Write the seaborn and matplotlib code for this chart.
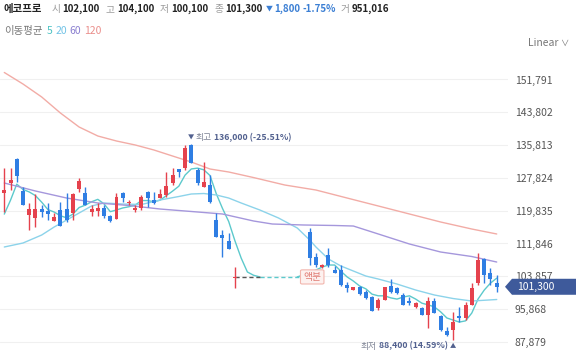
import matplotlib
matplotlib.use("Agg")
import matplotlib.pyplot as plt
import seaborn as sns
import pandas as pd
from matplotlib.patches import Polygon, FancyBboxPatch

W, H = 580, 357

# Daily candles (gap = trading halt before the split)
days = list(range(0, 38)) + list(range(49, 80))
opens = [124100, 126600, 132400, 124600, 118800, 118100, 120200, 119800, 117300, 120000,
         120200, 119300, 125100, 124100, 119500, 119800, 120500, 118500, 117800, 124100,
         121700, 120000, 120500, 124400, 122400, 122900, 123700, 126600, 130000, 130200,
         135800, 129700, 125600, 126100, 117600, 113900, 112400, 103500,
         114600, 108600, 106100, 109000, 105400, 105400, 101700, 100500, 101200, 100000,
         98800, 96100, 98100, 101500, 101000, 99300, 97800, 96400, 96100, 94400,
         97800, 94200, 90500, 90800, 94200, 93700, 96900, 102200, 108100, 104700, 102100]
highs = [130200, 130200, 132700, 125600, 121700, 123900, 121200, 121700, 119300, 122000,
         124100, 124100, 127800, 125600, 121200, 121700, 121200, 118800, 124100, 124400,
         122400, 121200, 123700, 124600, 124400, 125100, 129300, 130200, 130000, 135800,
         136000, 130200, 131700, 128500, 119300, 115100, 114400, 106100,
         115600, 109500, 106800, 110700, 106400, 106600, 102500, 101300, 101500, 100500,
         99100, 98600, 101200, 103200, 101300, 99800, 98800, 97600, 96400, 98800,
         98600, 94400, 91500, 95200, 96400, 97600, 102200, 109500, 108300, 105900, 104100]
lows = [119500, 124900, 126800, 121200, 115100, 115900, 118300, 117600, 117300, 116100,
        117100, 117600, 124400, 121200, 118500, 118500, 118100, 117100, 117800, 122000,
        121200, 119500, 120000, 120700, 121500, 122900, 123200, 126100, 128000, 129700,
        131400, 126100, 125600, 121700, 113400, 108600, 110500, 101000,
        106600, 106100, 105900, 106100, 104700, 101500, 100000, 100500, 99300, 98300,
        95400, 95600, 98100, 99800, 99500, 96900, 96900, 96100, 94400, 91300,
        94900, 90500, 89300, 88400, 92700, 93200, 96900, 101700, 102200, 101700, 100100]
closes = [124900, 127300, 128300, 121200, 120200, 120200, 119500, 119000, 118300, 116100,
          117600, 123900, 127100, 121200, 120200, 120500, 118500, 117300, 123200, 122900,
          122000, 120500, 123200, 122900, 121700, 123900, 125800, 128500, 129300, 135100,
          131500, 126600, 126800, 122000, 113400, 113200, 110500, 103700,
          108300, 106600, 106600, 106600, 104700, 101700, 101000, 101200, 99500, 98600,
          95400, 98100, 101200, 100000, 99800, 96900, 97300, 97300, 94400, 97800,
          94900, 90800, 89600, 92700, 93700, 96900, 101000, 107800, 104200, 103200, 101300]

# Moving averages
ma5_days = list(range(0, 42)) + list(range(47, 80))
ma5 = [119000, 122400, 126300, 125000, 124400, 123500, 121900, 120100, 119500, 118600,
       118100, 119000, 120600, 121200, 122000, 122600, 121500, 119600, 120000, 120500,
       120800, 121200, 122300, 122300, 122000, 122400, 123500, 124600, 125800, 128500,
       130000, 130200, 129800, 128400, 124000, 120400, 117200, 112500, 108300, 104900,
       104100, 103700,
       103700, 104200, 104700, 105400, 106100, 106600, 106600, 105100, 103700, 102700,
       101500, 100800, 99500, 99100, 99100, 98600, 98300, 98800, 99100, 98300,
       97300, 96900, 96400, 95200, 93700, 93200, 92700, 93000, 94900, 98300,
       100500, 102200, 103400]
ma20_days = [0, 3, 6, 8, 10, 12, 14, 16, 19, 22, 25, 28, 30, 32, 34, 36, 38, 41, 44, 47,
             49, 50, 52, 54, 56, 58, 60, 63, 66, 69, 72, 75, 79]
ma20 = [110990, 111960, 113910, 115860, 117560, 119270, 120980, 121710, 121460, 121340,
        122440, 123290, 123900, 124020, 123660, 122920, 121710, 120000, 118050, 115620,
        112690, 110990, 108070, 106360, 105140, 103920, 103190, 101970, 100510, 99300,
        98440, 97830, 98200]
ma60_days = [0, 5, 10, 15, 20, 25, 30, 35, 40, 43, 48, 53, 56, 58, 60, 65, 70, 75, 79]
ma60 = [126580, 124630, 122920, 121710, 121100, 120240, 119640, 119030, 117320, 116590,
        116350, 116230, 116100, 115130, 114160, 111720, 109770, 108670, 107330]
ma120_days = [0, 3, 6, 9, 12, 15, 18, 21, 24, 27, 30, 33, 36, 40, 45, 50, 55, 60, 65, 70, 75, 79]
ma120 = [153500, 150690, 147530, 143630, 140220, 138030, 136810, 135840, 134620, 133150,
         131690, 129990, 129260, 127900, 126090, 124870, 122920, 120980, 119030, 117080,
         115370, 114160]

y_ticks = [87879, 95868, 103857, 111846, 119835, 127824, 135813, 143802, 151791]
last_price = 101300

RED, BLUE = "#e5424d", "#2f7ee3"
C5, C20, C60, C120 = "#5cc9cc", "#8cd3ea", "#a597dc", "#f2aca6"

sns.set_theme(style="white")
plt.rcParams["font.family"] = ["Noto Sans CJK KR", "DejaVu Sans"]

fig = plt.figure(figsize=(W / 100, H / 100), dpi=100)
ax = fig.add_axes([0, 0, 508 / W, 1 - 58 / H])

# moving averages
m5 = pd.DataFrame({"day": ma5_days, "v": ma5})
sns.lineplot(data=m5[m5.day <= 41], x="day", y="v", color=C5, linewidth=1, ax=ax)
sns.lineplot(data=m5[m5.day >= 47], x="day", y="v", color=C5, linewidth=1, ax=ax)
ax.plot([41, 47.6], [ma5[41], ma5[41]], color=C5, linewidth=1, linestyle=(0, (3, 2)))
sns.lineplot(x=ma20_days, y=ma20, color=C20, linewidth=1, ax=ax)
sns.lineplot(x=ma60_days, y=ma60, color=C60, linewidth=1, ax=ax)
sns.lineplot(x=ma120_days, y=ma120, color=C120, linewidth=1, ax=ax)

# dashed link from last pre-halt close
ax.plot([37, 41], [closes[37], closes[37]], color="#555555", linewidth=1,
        linestyle=(0, (3, 2)), zorder=3)

# candles
for d, o, h, l, c in zip(days, opens, highs, lows, closes):
    col = RED if c >= o else BLUE
    ax.vlines(d, l, h, color=col, linewidth=1, zorder=4)
    ax.bar(d, max(abs(c - o), 250), bottom=min(o, c), width=0.64, color=col,
           linewidth=0, zorder=4)

ax.set_xlim(-0.69, 80.81)
ax.set_ylim(84195, 157028)
ax.set_xticks([])
ax.set_yticks(y_ticks)
ax.set_yticklabels([f"{v:,}" for v in y_ticks])
ax.yaxis.tick_right()
ax.tick_params(axis="y", length=0, pad=5, labelsize=7.5, labelcolor="#555555")
ax.grid(axis="y", color="#f0f0f0", linewidth=0.8)
ax.set_xlabel("")
ax.set_ylabel("")
for s in ax.spines.values():
    s.set_visible(False)

renderer = fig.canvas.get_renderer()


def put_row(x0, y0, pieces, size=7.5):
    # pieces placed left to right, pixel coords from top-left
    x = x0
    for txt, color, weight, gap, fs in pieces:
        t = fig.text(x / W, 1 - y0 / H, txt, color=color, fontweight=weight,
                     fontsize=fs or size, va="center", ha="left")
        x += t.get_window_extent(renderer).width + gap
    return x


def row_width(pieces, size=7.5):
    total = 0
    for txt, color, weight, gap, fs in pieces:
        t = fig.text(0, 0, txt, fontweight=weight, fontsize=fs or size)
        total += t.get_window_extent(renderer).width + gap
        t.remove()
    return total


def to_px(d, v):
    px, py = ax.transData.transform((d, v))
    return px, H - py


GRAY, DARK, DOWN = "#9a9a9a", "#222222", "#3b7fd4"
put_row(3, 9, [("에코프로", DARK, "bold", 10, 7.5),
               ("시", GRAY, "normal", 2, None), ("102,100", DARK, "bold", 6, None),
               ("고", GRAY, "normal", 2, None), ("104,100", DARK, "bold", 6, None),
               ("저", GRAY, "normal", 2, None), ("100,100", DARK, "bold", 6, None),
               ("종", GRAY, "normal", 2, None), ("101,300", DARK, "bold", 3, None),
               ("▼", DOWN, "normal", 2, 5), ("1,800", DOWN, "bold", 2, None),
               ("-1.75%", DOWN, "bold", 5, None),
               ("거", GRAY, "normal", 2, None), ("951,016", DARK, "bold", 0, None)], size=7)
put_row(4, 31, [("이동평균", "#777777", "normal", 4, None),
                ("5", "#4cc3c3", "normal", 3, None), ("20", "#72c3e6", "normal", 3, None),
                ("60", "#8a7fd0", "normal", 3, None), ("120", "#ea8e8b", "normal", 0, None)])
fig.text(528 / W, 1 - 43 / H, "Linear", color="#777777", fontsize=7.5,
         va="center", ha="left")
fig.text(560 / W, 1 - 43 / H, "∨", color="#777777", fontsize=6,
         va="center", ha="left")

# high / low markers
SLATE = "#52618f"
hx, _ = to_px(30, 136000)
put_row(hx - 3, 138, [("▼", SLATE, "normal", 1, 4.5), ("최고", "#7d8394", "normal", 2, None),
                      ("136,000 (-25.51%)", SLATE, "bold", 0, None)], size=6.3)
lx, _ = to_px(72, 88400)
low_pieces = [("최저", "#7d8394", "normal", 2, None),
              ("88,400 (14.59%)", SLATE, "bold", 2, None),
              ("▲", SLATE, "normal", 0, 4.5)]
put_row(lx + 3 - row_width(low_pieces, 6.3), 346, low_pieces, size=6.3)

# split marker
sx, sy = to_px(49.4, closes[37])
box = FancyBboxPatch(((sx - 10) / W, 1 - (sy + 6) / H), 20 / W, 12 / H,
                     boxstyle="round,pad=0.003", transform=fig.transFigure,
                     facecolor="#fdf1ef", edgecolor="#f2b6ae", linewidth=0.8, zorder=6)
fig.patches.append(box)
fig.text(sx / W, 1 - sy / H, "액분", color="#e07b73", fontsize=7, ha="center",
         va="center", zorder=7)

# last price tag
_, py = to_px(79, last_price)
tag = Polygon([(505 / W, 1 - py / H), (512 / W, 1 - (py - 8) / H), (576 / W, 1 - (py - 8) / H),
               (576 / W, 1 - (py + 8) / H), (512 / W, 1 - (py + 8) / H)],
              closed=True, transform=fig.transFigure, facecolor="#3e5a9b",
              edgecolor="none", zorder=6)
fig.patches.append(tag)
fig.text(517 / W, 1 - py / H, f"{last_price:,}", color="white", fontsize=7.5,
         va="center", ha="left", zorder=7)

fig.savefig("out.png", dpi=100)
